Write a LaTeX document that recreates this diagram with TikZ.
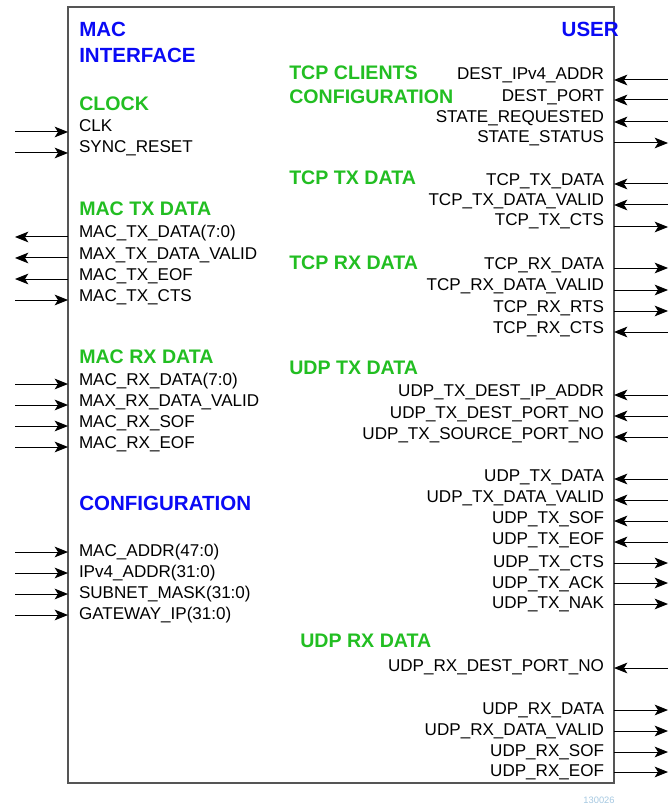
\documentclass[tikz,border=0pt]{standalone}
\usepackage{fontspec}
\setmainfont{Liberation Sans}
\usetikzlibrary{arrows.meta}
\definecolor{hblue}{RGB}{10,10,245}
\definecolor{hgreen}{RGB}{34,190,34}
\definecolor{boxgray}{RGB}{85,85,85}
\definecolor{tagblue}{RGB}{165,200,225}
\begin{document}
\begin{tikzpicture}[x=0.75pt,y=-0.75pt,
  sig/.style={font=\fontsize{12.8}{14}\selectfont, inner sep=0pt, outer sep=0pt},
  lsig/.style={sig, anchor=base west},
  rsig/.style={sig, anchor=base east},
  bhead/.style={font=\fontsize{15.4}{18}\selectfont\bfseries, text=hblue, inner sep=0pt},
  ghead/.style={font=\fontsize{14.7}{17}\selectfont\bfseries, text=hgreen, inner sep=0pt},
  wire/.style={draw=black, line width=0.75pt},
  dirin/.style={{Stealth[length=10pt,width=8pt,inset=2.5pt]}-},
  dirout/.style={-{Stealth[length=10pt,width=8pt,inset=2.5pt]}}
]
\useasboundingbox (0,0) rectangle (670,805);
\node[draw=boxgray, line width=1pt, inner sep=0pt, outer sep=0pt, anchor=north west,
      minimum width=546*0.75pt, minimum height=776*0.75pt] (box) at (68,7) {};

% headings
\node[bhead, anchor=base west] (hmac) at (79,37) {MAC};
\node[bhead, anchor=base west] (hint) at (79,63) {INTERFACE};
\node[bhead, anchor=base east] (huser) at (619,37) {USER};
\node[ghead, anchor=base west] (hclk) at (79,111) {CLOCK};
\node[ghead, anchor=base west] (hmtx) at (79,216) {MAC TX DATA};
\node[ghead, anchor=base west] (hmrx) at (79,363) {MAC RX DATA};
\node[bhead, anchor=base west] (hcfg) at (79,510) {CONFIGURATION};
\node[ghead, anchor=base west] (htcc1) at (289,80) {TCP CLIENTS};
\node[ghead, anchor=base west] (htcc2) at (289,104) {CONFIGURATION};
\node[ghead, anchor=base west] (httx) at (289,185) {TCP TX DATA};
\node[ghead, anchor=base west] (htrx) at (289,269) {TCP RX DATA};
\node[ghead, anchor=base west] (hutx) at (289,374) {UDP TX DATA};
\node[ghead, anchor=base west] (hurx) at (300,647) {UDP RX DATA};

% left signals
\foreach \t/\ty/\ay/\d [count=\i] in {
  CLK/132/132/in, SYNC\_RESET/153/153/in,
  MAC\_TX\_DATA(7:0)/238/237/out, MAX\_TX\_DATA\_VALID/259/258/out,
  MAC\_TX\_EOF/280/279/out, MAC\_TX\_CTS/301/300/in,
  MAC\_RX\_DATA(7:0)/385/384/in, MAX\_RX\_DATA\_VALID/406/405/in,
  MAC\_RX\_SOF/427/426/in, MAC\_RX\_EOF/448/447/in,
  MAC\_ADDR(47:0)/556/552/in, IPv4\_ADDR(31:0)/577/573/in,
  SUBNET\_MASK(31:0)/598/594/in, GATEWAY\_IP(31:0)/619/615/in}
{
  \node[lsig] (L\i) at (79,\ty) {\t};
  \coordinate (LE\i) at (15,\ay);
  \draw[wire, dir\d] (box.west |- LE\i) -- (LE\i);
}

% right signals
\foreach \t/\ty/\ay/\d [count=\i] in {
  DEST\_IPv4\_ADDR/80/80/in, DEST\_PORT/102/100/in,
  STATE\_REQUESTED/123/122/in, STATE\_STATUS/143/143/out,
  TCP\_TX\_DATA/186/184/in, TCP\_TX\_DATA\_VALID/206/205/in,
  TCP\_TX\_CTS/226/227/out,
  TCP\_RX\_DATA/269/268/out, TCP\_RX\_DATA\_VALID/291/290/out,
  TCP\_RX\_RTS/312/311/out, TCP\_RX\_CTS/333/332/in,
  UDP\_TX\_DEST\_IP\_ADDR/396/395/in, UDP\_TX\_DEST\_PORT\_NO/418/416/in,
  UDP\_TX\_SOURCE\_PORT\_NO/439/437/in,
  UDP\_TX\_DATA/481/479/in, UDP\_TX\_DATA\_VALID/502/500/in,
  UDP\_TX\_SOF/523/521/in, UDP\_TX\_EOF/544/542/in,
  UDP\_TX\_CTS/567/563/out, UDP\_TX\_ACK/588/583/out,
  UDP\_TX\_NAK/608/604/out,
  UDP\_RX\_DEST\_PORT\_NO/671/668/in,
  UDP\_RX\_DATA/714/710/out, UDP\_RX\_DATA\_VALID/735/731/out,
  UDP\_RX\_SOF/756/752/out, UDP\_RX\_EOF/776/772/out}
{
  \node[rsig] (R\i) at (604,\ty) {\t};
  \coordinate (RE\i) at (668,\ay);
  \draw[wire, dir\d] (box.east |- RE\i) -- (RE\i);
}

\node[font=\fontsize{7}{8}\selectfont, text=tagblue, inner sep=0pt] (tag) at (599,800) {130026};
\end{tikzpicture}
\end{document}
